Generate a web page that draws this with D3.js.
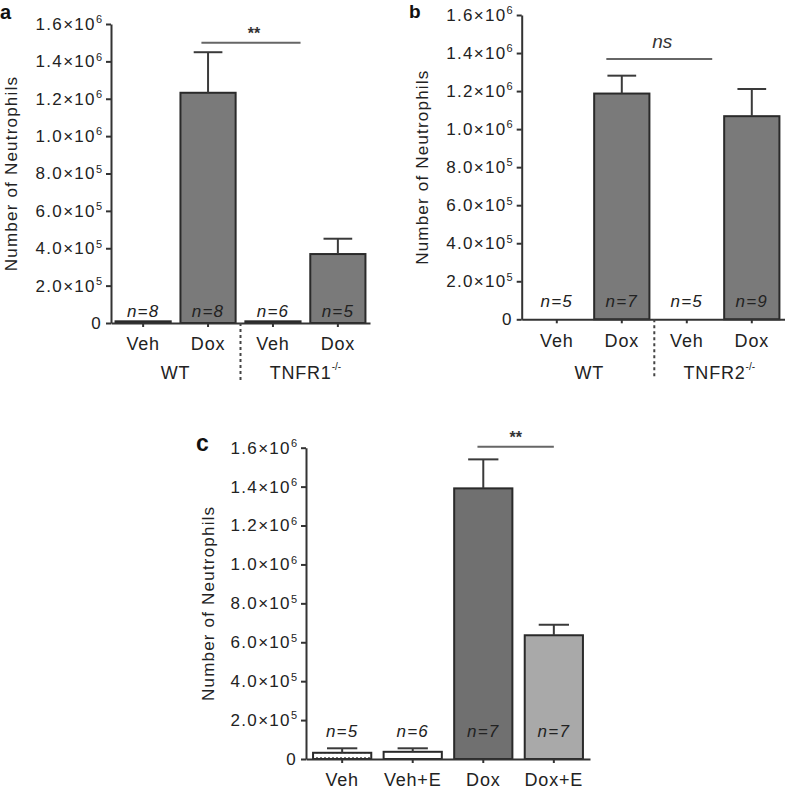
<!DOCTYPE html>
<html>
<head>
<meta charset="utf-8">
<script src="https://cdn.jsdelivr.net/npm/d3@7"></script>
<style>
  html, body { margin: 0; padding: 0; background: #fff; }
  svg { display: block; font-family: "Liberation Sans", Arial, Helvetica, sans-serif; }
</style>
</head>
<body>
<svg id="chart" width="785" height="791"></svg>
<script>
// ---------- data ----------
const yTicks = [0, 2e5, 4e5, 6e5, 8e5, 1e6, 1.2e6, 1.4e6, 1.6e6];
const yTickMantissa = ["0", "2.0", "4.0", "6.0", "8.0", "1.0", "1.2", "1.4", "1.6"];
const yTickExponent = ["", "5", "5", "5", "5", "6", "6", "6", "6"];
const yAxisTitle = "Number of Neutrophils";

const aCategories = ["Veh", "Dox", "Veh", "Dox"];
const aValues = [9000, 1232000, 9000, 369000];
const aErrors = [0, 217000, 0, 82000];
const aN = ["n=8", "n=8", "n=6", "n=5"];
const aGroups = ["WT", "TNFR1"];
const aGroupSup = ["", "-/-"];
const aSig = "**";

const bCategories = ["Veh", "Dox", "Veh", "Dox"];
const bValues = [0, 1187000, 0, 1068000];
const bErrors = [0, 94000, 0, 143000];
const bN = ["n=5", "n=7", "n=5", "n=9"];
const bGroups = ["WT", "TNFR2"];
const bGroupSup = ["", "-/-"];
const bSig = "ns";

const cCategories = ["Veh", "Veh+E", "Dox", "Dox+E"];
const cValues = [32000, 37000, 1391000, 636000];
const cErrors = [23000, 18000, 149000, 54000];
const cN = ["n=5", "n=6", "n=7", "n=7"];
const cSig = "**";

// ---------- drawing ----------
const svg = d3.select("#chart");
const AX = "#333";
const TXT = "#222";

const defs = svg.append("defs");
const pat = defs.append("pattern").attr("id", "dots")
  .attr("patternUnits", "userSpaceOnUse").attr("width", 4).attr("height", 5);
pat.append("rect").attr("width", 4).attr("height", 5).attr("fill", "#fff");
pat.append("rect").attr("x", 0).attr("y", 2).attr("width", 2).attr("height", 1.3).attr("fill", "#777");

function drawPanel(cfg) {
  const g = svg.append("g");
  const idx = cfg.categories.map((d, i) => i);
  const x = d3.scaleBand().domain(idx).range([cfg.x0, cfg.x1])
    .paddingInner(cfg.pi).paddingOuter(cfg.po);
  const y = d3.scaleLinear().domain([0, 1.6e6]).range([cfg.yb, cfg.yt]);
  const bw = x.bandwidth();

  // bars
  g.selectAll("rect.bar").data(idx.filter(i => cfg.values[i] > 0)).join("rect")
    .attr("class", "bar")
    .attr("x", i => x(i))
    .attr("y", i => y(cfg.values[i]))
    .attr("width", bw)
    .attr("height", i => y(0) - y(cfg.values[i]))
    .attr("fill", i => cfg.fills[i])
    .attr("stroke", "#2a2a2a")
    .attr("stroke-width", 2);

  // error bars
  const eb = idx.filter(i => cfg.errors[i] > 0);
  g.selectAll("line.ev").data(eb).join("line")
    .attr("x1", i => x(i) + bw / 2).attr("x2", i => x(i) + bw / 2)
    .attr("y1", i => y(cfg.values[i])).attr("y2", i => y(cfg.values[i] + cfg.errors[i]))
    .attr("stroke", "#3a3a3a").attr("stroke-width", 2);
  g.selectAll("line.ec").data(eb).join("line")
    .attr("x1", i => x(i) + bw / 2 - bw * 0.26).attr("x2", i => x(i) + bw / 2 + bw * 0.26)
    .attr("y1", i => y(cfg.values[i] + cfg.errors[i])).attr("y2", i => y(cfg.values[i] + cfg.errors[i]))
    .attr("stroke", "#3a3a3a").attr("stroke-width", 2);

  // y axis
  const ya = g.append("g").attr("transform", `translate(${cfg.x0},0)`)
    .call(d3.axisLeft(y).tickValues(yTicks).tickSize(5).tickSizeOuter(0).tickPadding(4).tickFormat(""));
  ya.selectAll("path, line").attr("stroke", AX).attr("stroke-width", 2);
  ya.selectAll(".tick text").each(function(d, i) {
    const t = d3.select(this);
    t.attr("fill", TXT).attr("font-size", 17).attr("letter-spacing", 1.3)
      .attr("font-family", "Liberation Sans, Arial, sans-serif");
    t.append("tspan").text(yTickMantissa[i] + (yTickExponent[i] ? "\u00d710" : ""));
    if (yTickExponent[i]) {
      t.append("tspan").attr("font-size", 11).attr("dy", "-0.6em").attr("letter-spacing", 0).text(yTickExponent[i]);
    }
  });

  // x axis
  const xa = g.append("g").attr("transform", `translate(0,${cfg.yb})`)
    .call(d3.axisBottom(x).tickSize(4).tickSizeOuter(0).tickPadding(cfg.xpad).tickFormat(i => cfg.categories[i]));
  xa.selectAll("path, line").attr("stroke", AX).attr("stroke-width", 2);
  xa.selectAll("text").attr("fill", TXT).attr("font-size", 18).attr("letter-spacing", 0.8)
    .attr("font-family", "Liberation Sans, Arial, sans-serif");

  // n labels
  g.selectAll("text.n").data(idx).join("text")
    .attr("x", i => x(i) + bw / 2)
    .attr("y", cfg.yb - cfg.nOff)
    .attr("text-anchor", "middle")
    .attr("font-size", 17).attr("font-style", "italic").attr("letter-spacing", 1.2)
    .attr("fill", TXT)
    .text(i => cfg.n[i]);

  // y title
  g.append("text")
    .attr("transform", `translate(${cfg.titleX},${(cfg.yt + cfg.yb) / 2}) rotate(-90)`)
    .attr("text-anchor", "middle")
    .attr("dominant-baseline", "central")
    .attr("font-size", 17).attr("letter-spacing", 1.2)
    .attr("fill", TXT)
    .text(yAxisTitle);

  // panel letter
  g.append("text").attr("x", cfg.letterX).attr("y", cfg.letterY)
    .attr("font-size", cfg.letterSize).attr("font-weight", "bold").attr("fill", "#111")
    .text(cfg.letter);

  // groups
  if (cfg.groups) {
    const sepX = (x(1) + x(2) + bw) / 2;
    g.append("line").attr("x1", sepX).attr("x2", sepX)
      .attr("y1", cfg.yb).attr("y2", cfg.yb + 58)
      .attr("stroke", "#444").attr("stroke-width", 2).attr("stroke-dasharray", "3,3");
    cfg.groups.forEach((gname, gi) => {
      const cx = (x(gi * 2) + x(gi * 2 + 1) + bw) / 2;
      const t = g.append("text").attr("x", cx).attr("y", cfg.yb + cfg.groupOff)
        .attr("text-anchor", "middle").attr("font-size", 18).attr("letter-spacing", 0.8)
        .attr("fill", TXT);
      t.append("tspan").text(gname);
      if (cfg.groupSup[gi]) {
        t.append("tspan").attr("font-size", 10).attr("dy", "-0.9em").attr("letter-spacing", 0).text(cfg.groupSup[gi]);
      }
    });
  }

  // significance
  const s = cfg.sig;
  const sy = y(s.value);
  const sx1 = x(s.from) + bw * s.fromOff;
  const sx2 = x(s.to) + bw * s.toOff;
  g.append("line").attr("x1", sx1).attr("x2", sx2).attr("y1", sy).attr("y2", sy)
    .attr("stroke", "#666").attr("stroke-width", 2);
  g.append("text").attr("x", (sx1 + sx2) / 2 + s.textDx).attr("y", sy - s.textDy)
    .attr("text-anchor", "middle")
    .attr("font-size", s.italic ? 19 : 16)
    .attr("font-style", s.italic ? "italic" : "normal")
    .attr("font-weight", s.italic ? "normal" : "bold")
    .attr("fill", "#333")
    .text(s.label);
}

drawPanel({
  letter: "a", letterX: 0, letterY: 18.5, letterSize: 20,
  categories: aCategories, values: aValues, errors: aErrors, n: aN,
  fills: ["#777", "#7a7a7a", "#777", "#7a7a7a"],
  x0: 111, x1: 370, pi: 0.15, po: 0.07, yb: 323, yt: 24,
  xpad: 10, nOff: 6, titleX: 11, groupOff: 56,
  groups: aGroups, groupSup: aGroupSup,
  sig: { label: aSig, value: 1.5e6, from: 1, fromOff: 0.38, to: 2, toOff: 1.0, textDx: 3, textDy: 4, italic: false }
});

drawPanel({
  letter: "b", letterX: 409, letterY: 17.8, letterSize: 19,
  categories: bCategories, values: bValues, errors: bErrors, n: bN,
  fills: ["#7a7a7a", "#7a7a7a", "#7a7a7a", "#7a7a7a"],
  x0: 521.7, x1: 786.9, pi: 0.15, po: 0.115, yb: 319.3, yt: 15,
  xpad: 11, nOff: 12, titleX: 422, groupOff: 60,
  groups: bGroups, groupSup: bGroupSup,
  sig: { label: bSig, value: 1.368e6, from: 1, fromOff: 0.22, to: 2, toOff: 0.96, textDx: 3, textDy: 11, italic: true }
});

drawPanel({
  letter: "c", letterX: 196, letterY: 451, letterSize: 23,
  categories: cCategories, values: cValues, errors: cErrors, n: cN,
  fills: ["url(#dots)", "#fff", "#707070", "#a9a9a9"],
  x0: 306, x1: 590, pi: 0.175, po: 0.1, yb: 759, yt: 447.7,
  xpad: 10, nOff: 22, titleX: 208,
  sig: { label: cSig, value: 1.605e6, from: 2, fromOff: 0.4, to: 3, toOff: 0.5, textDx: 0, textDy: 4, italic: false }
});
</script>
</body>
</html>
